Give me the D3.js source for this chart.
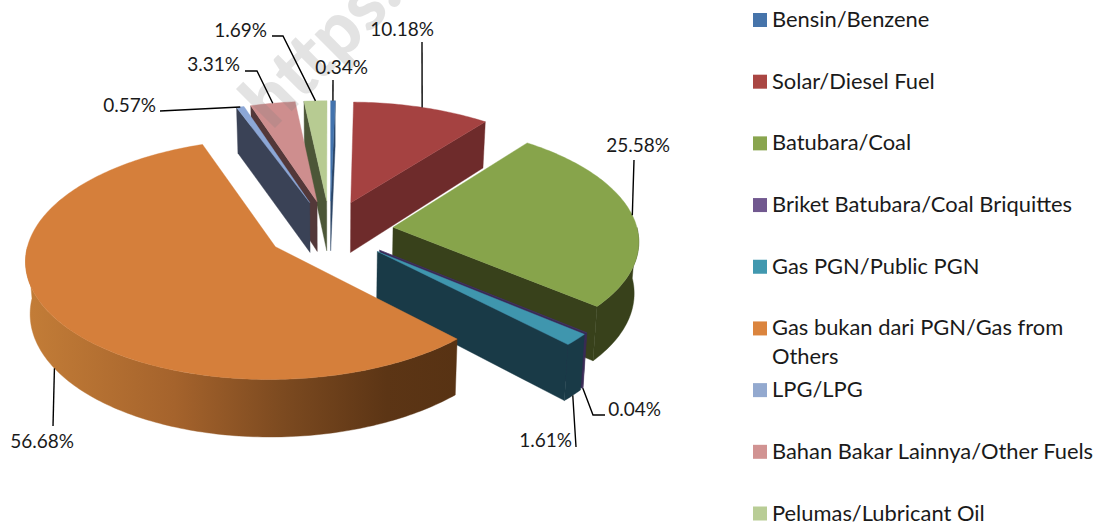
<!DOCTYPE html>
<html><head><meta charset="utf-8">
<script src="https://cdn.jsdelivr.net/npm/d3@7/dist/d3.min.js"></script>
<style>html,body{margin:0;padding:0;background:#fff}svg{display:block}
text{font-family:Lato,"Open Sans",sans-serif;fill:#1a1a1a}</style></head><body>
<script>
const categories = ["Bensin/Benzene","Solar/Diesel Fuel","Batubara/Coal","Briket Batubara/Coal Briquittes","Gas PGN/Public PGN","Gas bukan dari PGN/Gas from Others","LPG/LPG","Bahan Bakar Lainnya/Other Fuels","Pelumas/Lubricant Oil"];
const values = [0.34,10.18,25.58,0.04,1.61,56.68,0.57,3.31,1.69];
const legendColors = ["#4674AA","#AA4643","#89A54E","#71588F","#4198AF","#DB843D","#93A9CF","#D19392","#B9CD96"];
const topColors = ["#4273AE","#A54241","#87A44B","#44346A","#3F96AE","#D57F3B","#8CA7D6","#CE8E8E","#B7CB92"];
const sideColors = ["#2A4466","#6E2B2B","#38411B","#3A2A55","#193A47","#5A3313","#3A4256","#533839","#4C5637"];
const paintOrder = [0,8,7,6,1,2,3,4,5];
const legendLines = [["Bensin/Benzene"],["Solar/Diesel Fuel"],["Batubara/Coal"],["Briket Batubara/Coal Briquittes"],["Gas PGN/Public PGN"],["Gas bukan dari PGN/Gas from","Others"],["LPG/LPG"],["Bahan Bakar Lainnya/Other Fuels"],["Pelumas/Lubricant Oil"]];
// label annotation placement: text end x, baseline y, leader waypoints from label towards the slice
const labelAnchors = [
 {x:368,y:74,leader:[[333,80]]},
 {x:434,y:36,leader:[[422,42]]},
 {x:670,y:152,leader:[[634,160]]},
 {x:661,y:416,leader:[[605,415],[593,415]]},
 {x:572,y:447,leader:[[576,447]]},
 {x:74,y:448,leader:[[53,426]]},
 {x:156,y:112,leader:[[160,111]]},
 {x:240,y:71,leader:[[245,71],[257,71]]},
 {x:267,y:37,leader:[[272,36],[283,36]]}
];
const W=1102,H=530;
const explode=0.26, camera=10, converge=0.015;
const xScale=d3.scaleLinear().domain([-1,1]).range([330-244.5,330+244.5]);
const yScale=d3.scaleLinear().domain([-1,1]).range([230.5-116,230.5+116]);
const depth=d3.scaleLinear().domain([0,1]).range([0,51]);
const pie=d3.pie().sort(null).value(d=>d);
const arcs=pie(values);
const svg=d3.select("body").append("svg").attr("width",W).attr("height",H);
const grad=svg.append("defs").append("linearGradient").attr("id","wall").attr("gradientUnits","userSpaceOnUse")
 .attr("x1",xScale(-1.22)).attr("x2",xScale(0.55)).attr("y1",0).attr("y2",0);
[[0,"#C27C37"],[0.33,"#A5632C"],[0.58,"#7C4A20"],[0.82,"#5C3515"],[1,"#573213"]].forEach(s=>grad.append("stop").attr("offset",s[0]).attr("stop-color",s[1]));
function project(mid,theta,r,z){
  const X=explode*Math.sin(mid)+r*Math.sin(theta);
  const Y=-explode*Math.cos(mid)-r*Math.cos(theta);
  const s=camera/(camera-Y);
  return [xScale(X*s*(1-converge*z)), yScale(Y*s)+depth(z)*s];
}
const line=d3.line().curve(d3.curveLinear);
const sweep=(a,b)=>{const n=Math.max(2,Math.ceil((b-a)/(Math.PI/180)));return d3.range(n+1).map(i=>a+(b-a)*i/n);};
const gPie=svg.append("g");
function drawSlice(i){
  const a=arcs[i], s=a.startAngle, e=a.endAngle, m=(s+e)/2, g=gPie.append("g");
  const side=sideColors[i];
  const poly=(pts,fill)=>g.append("path").attr("d",line(pts)+"Z").attr("fill",fill).attr("stroke",fill).attr("stroke-width",0.4);
  if(Math.cos(s-Math.PI/2)<0) poly([project(m,0,0,0),project(m,s,1,0),project(m,s,1,1),project(m,0,0,1)],side);
  if(Math.cos(e+Math.PI/2)<0) poly([project(m,0,0,0),project(m,e,1,0),project(m,e,1,1),project(m,0,0,1)],side);
  const w0=Math.max(s,Math.PI/2), w1=Math.min(e,3*Math.PI/2);
  if(w1>w0){
    const th=sweep(w0,w1);
    const pts=th.map(t=>project(m,t,1,0)).concat(th.slice().reverse().map(t=>project(m,t,1,1)));
    poly(pts,i===5?"url(#wall)":side);
  }
  const top=[project(m,0,0,0)].concat(sweep(s,e).map(t=>project(m,t,1,0)));
  poly(top,topColors[i]);
}
paintOrder.forEach(drawSlice);
// watermark
svg.append("text").attr("transform","translate(272,131) rotate(-45)").attr("font-size",74).attr("font-weight",900)
 .style("fill","#808080").attr("fill-opacity",0.22).attr("font-family","Lato").text("https:");
// labels + leaders
const gLab=svg.append("g");
arcs.forEach((a,i)=>{
  const m=(a.startAngle+a.endAngle)/2;
  const z=Math.cos(m)<0?1:0;
  const anchor=project(m,m,1,z);
  const la=labelAnchors[i];
  gLab.append("path").attr("d",line(la.leader.concat([anchor]))).attr("fill","none").attr("stroke","#000").attr("stroke-width",1.4);
  gLab.append("text").attr("x",la.x).attr("y",la.y).attr("text-anchor","end").attr("font-size",19).text(values[i].toFixed(2)+"%");
});
// legend
const legendY=d3.scalePoint().domain(categories).range([20,513.5]);
const gLeg=svg.append("g");
categories.forEach((c,i)=>{
  const y=legendY(c);
  gLeg.append("rect").attr("x",753).attr("y",y-7).attr("width",14).attr("height",14).attr("fill",legendColors[i]);
  legendLines[i].forEach((t,j)=>gLeg.append("text").attr("x",772).attr("y",y+7+j*28.7).attr("font-size",21.9).text(t));
});
</script></body></html>
